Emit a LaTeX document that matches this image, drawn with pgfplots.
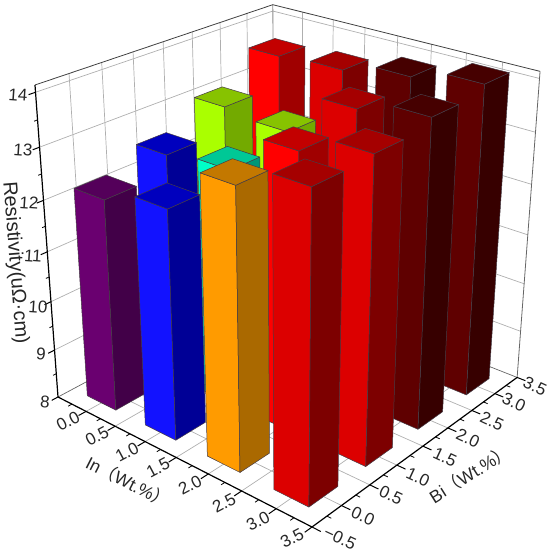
\documentclass[border=0pt]{standalone}
\usepackage{fontspec}
\usepackage{pgfplots}
\pgfplotsset{compat=1.18}
\setmainfont{Liberation Sans}
\newfontfamily\cjk{Noto Sans CJK SC}

% bar colours: f = front face, r = right face, t = top face
\definecolor{purf}{RGB}{106,0,112}\definecolor{purr}{RGB}{66,0,72}\definecolor{purt}{RGB}{84,0,90}
\definecolor{bluf}{RGB}{18,18,255}\definecolor{blur}{RGB}{0,0,150}\definecolor{blut}{RGB}{0,0,190}
\definecolor{teaf}{RGB}{0,255,200}\definecolor{tear}{RGB}{0,150,120}\definecolor{teat}{RGB}{0,200,150}
\definecolor{limf}{RGB}{170,255,0}\definecolor{limr}{RGB}{115,170,0}\definecolor{limt}{RGB}{135,195,0}
\definecolor{oraf}{RGB}{255,155,0}\definecolor{orar}{RGB}{170,105,0}\definecolor{orat}{RGB}{195,120,0}
\definecolor{redf}{RGB}{255,0,0}\definecolor{redr}{RGB}{160,0,0}\definecolor{redt}{RGB}{195,0,0}
\definecolor{rdmf}{RGB}{220,0,0}\definecolor{rdmr}{RGB}{125,0,0}\definecolor{rdmt}{RGB}{165,0,0}
\definecolor{drkf}{RGB}{95,0,0}\definecolor{drkr}{RGB}{55,0,0}\definecolor{drkt}{RGB}{70,0,0}
\definecolor{edge}{RGB}{70,60,70}
\definecolor{gridc}{RGB}{175,175,175}

% one straight segment in data coordinates (In, Bi, resistivity)
\newcommand{\seg}[7]{\addplot[#7] table[proj,row sep=\\]{In Bi R\\ #1 #2 #3\\ #4 #5 #6\\};}
% one bar of width 0.5: In, Bi, resistivity, colour
\newcommand{\tdbar}[4]{%
 \addplot[fill=#4f,draw=edge,line width=.5pt] table[cube={#1}{#2}{#3},row sep=\\]{u v w\\ -0.25 -0.25 0\\ 0.25 -0.25 0\\ 0.25 -0.25 1\\ -0.25 -0.25 1\\ -0.25 -0.25 0\\};
 \addplot[fill=#4r,draw=edge,line width=.5pt] table[cube={#1}{#2}{#3},row sep=\\]{u v w\\ 0.25 -0.25 0\\ 0.25 0.25 0\\ 0.25 0.25 1\\ 0.25 -0.25 1\\ 0.25 -0.25 0\\};
 \addplot[fill=#4t,draw=edge,line width=.5pt] table[cube={#1}{#2}{#3},row sep=\\]{u v w\\ -0.25 -0.25 1\\ 0.25 -0.25 1\\ 0.25 0.25 1\\ -0.25 0.25 1\\ -0.25 -0.25 1\\};
}
\pgfplotsset{
 /pgf/declare function={
  DEN(\i,\j,\r)=1-0.13*(\i+0.5)/4+0.1535*(\j+0.5)/4-0.092*(\r-8)/6.13;
  PX(\i,\j,\r)=(58+213.44*(\i+0.5)/4+257.85*(\j+0.5)/4-26.23*(\r-8)/6.13)/DEN(\i,\j,\r);
  PY(\i,\j,\r)=(397+61.49*(\i+0.5)/4-72.2*(\j+0.5)/4-319.83*(\r-8)/6.13)/DEN(\i,\j,\r);
 },
 /pgfplots/table/proj/.style={
  x expr={PX(\thisrow{In},\thisrow{Bi},\thisrow{R})},
  y expr={PY(\thisrow{In},\thisrow{Bi},\thisrow{R})}},
 /pgfplots/table/cube/.style n args={3}{
  x expr={PX(#1+\thisrow{u},#2+\thisrow{v},8+\thisrow{w}*(#3-8))},
  y expr={PY(#1+\thisrow{u},#2+\thisrow{v},8+\thisrow{w}*(#3-8))}},
}
\tikzset{
 tl/.style={font=\fontsize{17}{17}\selectfont,text=black!85,inner sep=0pt},
 axt/.style={font=\fontsize{17.5}{17.5}\selectfont,text=black!85,inner sep=0pt},
 axr/.style={font=\fontsize{20}{20}\selectfont,text=black!85,inner sep=0pt},
}
\begin{document}
\begin{tikzpicture}
\begin{axis}[
  scale only axis,width=550pt,height=551pt,
  xmin=0,xmax=550,ymin=0,ymax=551,y dir=reverse,
  hide axis,clip=false]
\useasboundingbox (axis cs:0,0) rectangle (axis cs:550,551);
% grid on floor and walls
\pgfplotsinvokeforeach{0,0.5,1,1.5,2,2.5,3}{
  \seg{#1}{-0.5}{8}{#1}{3.5}{8}{gridc,line width=.7pt}
  \seg{-0.5}{#1}{8}{3.5}{#1}{8}{gridc,line width=.7pt}
  \seg{-0.5}{#1}{8}{-0.5}{#1}{14.13}{gridc,line width=.7pt}
  \seg{#1}{3.5}{8}{#1}{3.5}{14.13}{gridc,line width=.7pt}
}
\pgfplotsinvokeforeach{9,10,11,12,13,14}{
  \seg{-0.5}{-0.5}{#1}{-0.5}{3.5}{#1}{gridc,line width=.7pt}
  \seg{-0.5}{3.5}{#1}{3.5}{3.5}{#1}{gridc,line width=.7pt}
}
% wall frame
\seg{-0.5}{-0.5}{8}{-0.5}{3.5}{8}{black!60,line width=.7pt}
\seg{-0.5}{3.5}{8}{3.5}{3.5}{8}{black!60,line width=.7pt}
\seg{-0.5}{3.5}{8}{-0.5}{3.5}{14.13}{black!45,line width=.8pt}
\seg{3.5}{3.5}{8}{3.5}{3.5}{14.13}{black!60,line width=.8pt}
\seg{-0.5}{-0.5}{14.13}{-0.5}{3.5}{14.13}{black!75,line width=.8pt}
\seg{-0.5}{3.5}{14.13}{3.5}{3.5}{14.13}{black!75,line width=.8pt}
% bars, from back to front
\tdbar{0}{3}{13.61}{red}
\tdbar{1}{3}{13.68}{rdm}
\tdbar{2}{3}{13.90}{drk}
\tdbar{3}{3}{14.12}{drk}
\tdbar{0}{2}{13.03}{lim}
\tdbar{1}{2}{12.93}{lim}
\tdbar{2}{2}{13.74}{rdm}
\tdbar{3}{2}{13.97}{drk}
\tdbar{0}{1}{12.56}{blu}
\tdbar{1}{1}{12.69}{tea}
\tdbar{2}{1}{13.45}{red}
\tdbar{3}{1}{13.81}{rdm}
\tdbar{0}{0}{12.21}{pur}
\tdbar{1}{0}{12.49}{blu}
\tdbar{2}{0}{13.35}{ora}
\tdbar{3}{0}{13.76}{rdm}
% axis lines
\seg{-0.5}{-0.5}{8}{-0.5}{-0.5}{14.13}{black,line width=1.2pt}
\seg{-0.5}{-0.5}{8}{3.5}{-0.5}{8}{black,line width=1.2pt}
\seg{3.5}{-0.5}{8}{3.5}{3.5}{8}{black,line width=1.2pt}
% major ticks
\pgfplotsinvokeforeach{0,0.5,1,1.5,2,2.5,3,3.5}{
  \seg{#1}{-0.5}{8}{#1}{-0.62}{8}{black,line width=1pt}
}
\pgfplotsinvokeforeach{-0.5,0,0.5,1,1.5,2,2.5,3,3.5}{
  \seg{3.5}{#1}{8}{3.62}{#1}{8}{black,line width=1pt}
}
\pgfplotsinvokeforeach{8,9,10,11,12,13,14}{
  \seg{-0.5}{-0.5}{#1}{-0.5}{-0.6}{#1}{black,line width=1pt}
}
% minor ticks
\pgfplotsinvokeforeach{-0.25,0.25,0.75,1.25,1.75,2.25,2.75,3.25}{
  \seg{#1}{-0.5}{8}{#1}{-0.56}{8}{black,line width=.8pt}
  \seg{3.5}{#1}{8}{3.56}{#1}{8}{black,line width=.8pt}
}
\pgfplotsinvokeforeach{8.5,9.5,10.5,11.5,12.5,13.5}{
  \seg{-0.5}{-0.5}{#1}{-0.5}{-0.55}{#1}{black,line width=.8pt}
}
% tick labels
\node[tl,rotate=-4] at (axis cs:18,95) {14};
\node[tl,rotate=-4] at (axis cs:23,150) {13};
\node[tl,rotate=-4] at (axis cs:29,203) {12};
\node[tl,rotate=-4] at (axis cs:33,256) {11};
\node[tl,rotate=-4] at (axis cs:38,307) {10};
\node[tl,rotate=-4] at (axis cs:41,354) {9};
\node[tl,rotate=-4] at (axis cs:45,402) {8};
\node[tl,rotate=28] at (axis cs:68,421) {0.0};
\node[tl,rotate=28] at (axis cs:97,436) {0.5};
\node[tl,rotate=28] at (axis cs:127,452) {1.0};
\node[tl,rotate=28] at (axis cs:158,468) {1.5};
\node[tl,rotate=28] at (axis cs:190,485) {2.0};
\node[tl,rotate=28] at (axis cs:224,503) {2.5};
\node[tl,rotate=28] at (axis cs:258,521) {3.0};
\node[tl,rotate=28] at (axis cs:292,538) {3.5};
\node[tl,rotate=-25] at (axis cs:340,538) {−0.5};
\node[tl,rotate=-25] at (axis cs:363,516) {0.0};
\node[tl,rotate=-25] at (axis cs:391,495) {0.5};
\node[tl,rotate=-25] at (axis cs:418,477) {1.0};
\node[tl,rotate=-25] at (axis cs:445,457) {1.5};
\node[tl,rotate=-25] at (axis cs:468,438) {2.0};
\node[tl,rotate=-25] at (axis cs:492,421) {2.5};
\node[tl,rotate=-25] at (axis cs:514,402) {3.0};
\node[tl,rotate=-25] at (axis cs:535,386) {3.5};
% axis titles
\node[axt,rotate=-27] at (axis cs:128,482) {In{\cjk（}Wt.\%{\cjk）}};
\node[axt,rotate=32] at (axis cs:470,474) {Bi{\cjk（}Wt.\%{\cjk）}};
\node[axr,rotate=-85.5] at (axis cs:15,263) {Resistivity(uΩ·cm)};
\end{axis}
\end{tikzpicture}
\end{document}
